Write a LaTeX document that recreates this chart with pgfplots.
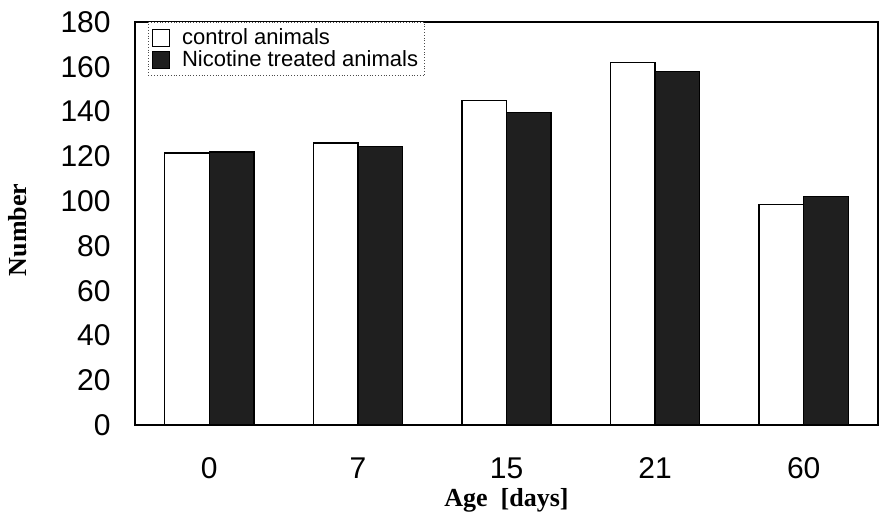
\documentclass[border=0pt]{standalone}
\usepackage{fontspec}
\setmainfont{Liberation Sans}
\newfontfamily\serifb{Liberation Serif}
\usepackage{pgfplots}
\pgfplotsset{compat=1.18}
\begin{document}
\begin{tikzpicture}
\begin{axis}[
  scale only axis,
  width=371.5pt, height=201.5pt,
  ybar=0pt, bar width=0.3,
  xmin=-0.5, xmax=4.5,
  ymin=0, ymax=180,
  ytick={0,20,...,180},
  xtick={0,1,2,3,4},
  xticklabels={0,7,15,21,60},
  major tick length=0pt,
  axis line style={line width=0.7pt},
  /pgf/number format/assume math mode=true,
  ticklabel style={font=\fontsize{15}{15}\selectfont},
  yticklabel style={inner sep=0pt, xshift=-12pt},
  xticklabel style={inner sep=0pt, yshift=-16pt},
  xlabel={\serifb\bfseries Age\ \ [days]},
  ylabel={\serifb\bfseries Number},
  label style={font=\fontsize{13}{13}\selectfont},
  xlabel style={at={(axis description cs:0.5,0)}, anchor=center, yshift=-37.5pt},
  ylabel style={at={(axis description cs:-0.1575,0.484)}, anchor=center},
  legend style={at={(rel axis cs:0,1)}, anchor=north west, xshift=6.5pt,
    draw=black!70, densely dotted, font=\fontsize{11}{11}\selectfont,
    inner sep=2pt, row sep=-1pt,
    nodes={inner sep=1.2pt, solid}},
  legend cell align=left,
  legend image code/.code={\draw[#1,solid,line width=0.5pt] (2pt,-4pt) rectangle (10.5pt,4.5pt);\path (15pt,0pt);},
]
\addplot[draw=black, fill=white, line width=0.75pt, bar shift=-0.15] coordinates {(0,121.5) (1,126) (2,145) (3,162) (4,98.5)};
\addplot[draw=black, fill=black!88, line width=0.75pt, bar shift=0.15] coordinates {(0,122) (1,124.5) (2,139.5) (3,158) (4,102)};
\legend{control animals, Nicotine treated animals}
\end{axis}
\pgfresetboundingbox
\path (-67.5pt,-48pt) rectangle (373pt,212.5pt);
\end{tikzpicture}
\end{document}
